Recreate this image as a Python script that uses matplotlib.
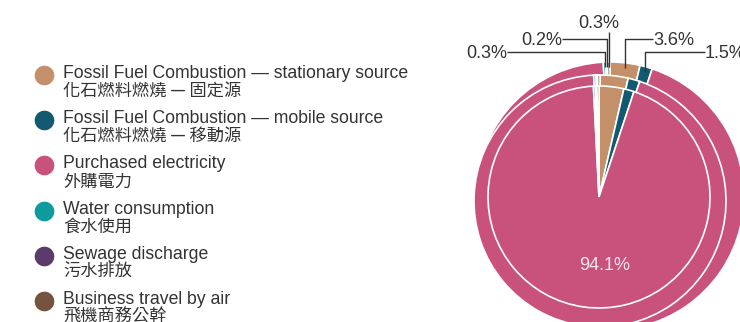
import matplotlib.pyplot as plt
import numpy as np

# Greenhouse gas emissions by source (%)
sources_en = [
    "Fossil Fuel Combustion — stationary source",
    "Fossil Fuel Combustion — mobile source",
    "Purchased electricity",
    "Water consumption",
    "Sewage discharge",
    "Business travel by air",
]
sources_zh = ["化石燃料燃燒 — 固定源", "化石燃料燃燒 — 移動源", "外購電力",
              "食水使用", "污水排放", "飛機商務公幹"]
shares = [3.6, 1.5, 94.1, 0.3, 0.2, 0.3]
colors = ["#C4906A", "#115A72", "#C9527D", "#0F9A9E", "#5C3A6B", "#74543F"]

W, H = 740, 322
TEXT = "#333333"
EN_FONT = ["Liberation Sans", "Noto Sans CJK TC"]
ZH_FONT = ["Noto Sans CJK TC", "Liberation Sans"]

fig = plt.figure(figsize=(W / 100, H / 100), dpi=100)
ax = fig.add_axes([0, 0, 1, 1])


def px(x, y):
    # work in pixel units measured from the top-left corner
    return x, H - y


# three stacked pie layers (back, middle, front) for the extruded look
layers = [((610, 196), 134), ((600, 201), 126), ((599, 197), 111)]
wedge_sets = []
for (cx, cy), r in layers:
    wedges, _ = ax.pie(shares, colors=colors, startangle=90, counterclock=False,
                       center=px(cx, cy), radius=r,
                       wedgeprops=dict(edgecolor="white", linewidth=1.2))
    wedge_sets.append(wedges)

# percentage labels with elbow leader lines to the back layer
label_pos = {0: (653, 45, "left"), 1: (705, 58, "left"),
             3: (507, 58, "right"), 4: (562, 45, "right"), 5: (599, 28, "center")}
back = wedge_sets[0]
for i, (tx, ty, ha) in label_pos.items():
    w = back[i]
    mid = np.deg2rad((w.theta1 + w.theta2) / 2)
    ex = w.center[0] + (w.r - 5) * np.cos(mid)
    ey = w.center[1] + (w.r - 5) * np.sin(mid)
    ax.text(*px(tx, ty), f"{shares[i]}%", fontsize=13, family=EN_FONT,
            color=TEXT, ha=ha, va="baseline")
    if ha == "center":
        xs, ys = [ex, ex], [H - (ty + 4), ey]
    else:
        ky = H - (ty - 6)
        xs, ys = [tx, ex, ex], [ky, ky, ey]
    ax.plot(xs, ys, color=TEXT, lw=1.0, solid_capstyle="butt")

ax.text(*px(605, 270), f"{shares[2]}%", fontsize=13, family=EN_FONT,
        color="#F6E6EC", ha="center", va="baseline")

# legend: colour dot, English name, Chinese name
for i, (en, zh, c) in enumerate(zip(sources_en, sources_zh, colors)):
    y = 75 + 45.2 * i
    ax.scatter(*px(44, y), s=200, color=c, linewidths=0)
    ax.text(*px(63, y + 3), en, fontsize=12.7, family=EN_FONT,
            color=TEXT, va="baseline")
    ax.text(*px(63, y + 21), zh, fontsize=12.4, family=ZH_FONT,
            color=TEXT, va="baseline")

ax.set_xlim(0, W)
ax.set_ylim(0, H)
ax.set_aspect("equal")
ax.axis("off")

fig.savefig("out.png", dpi=100)
